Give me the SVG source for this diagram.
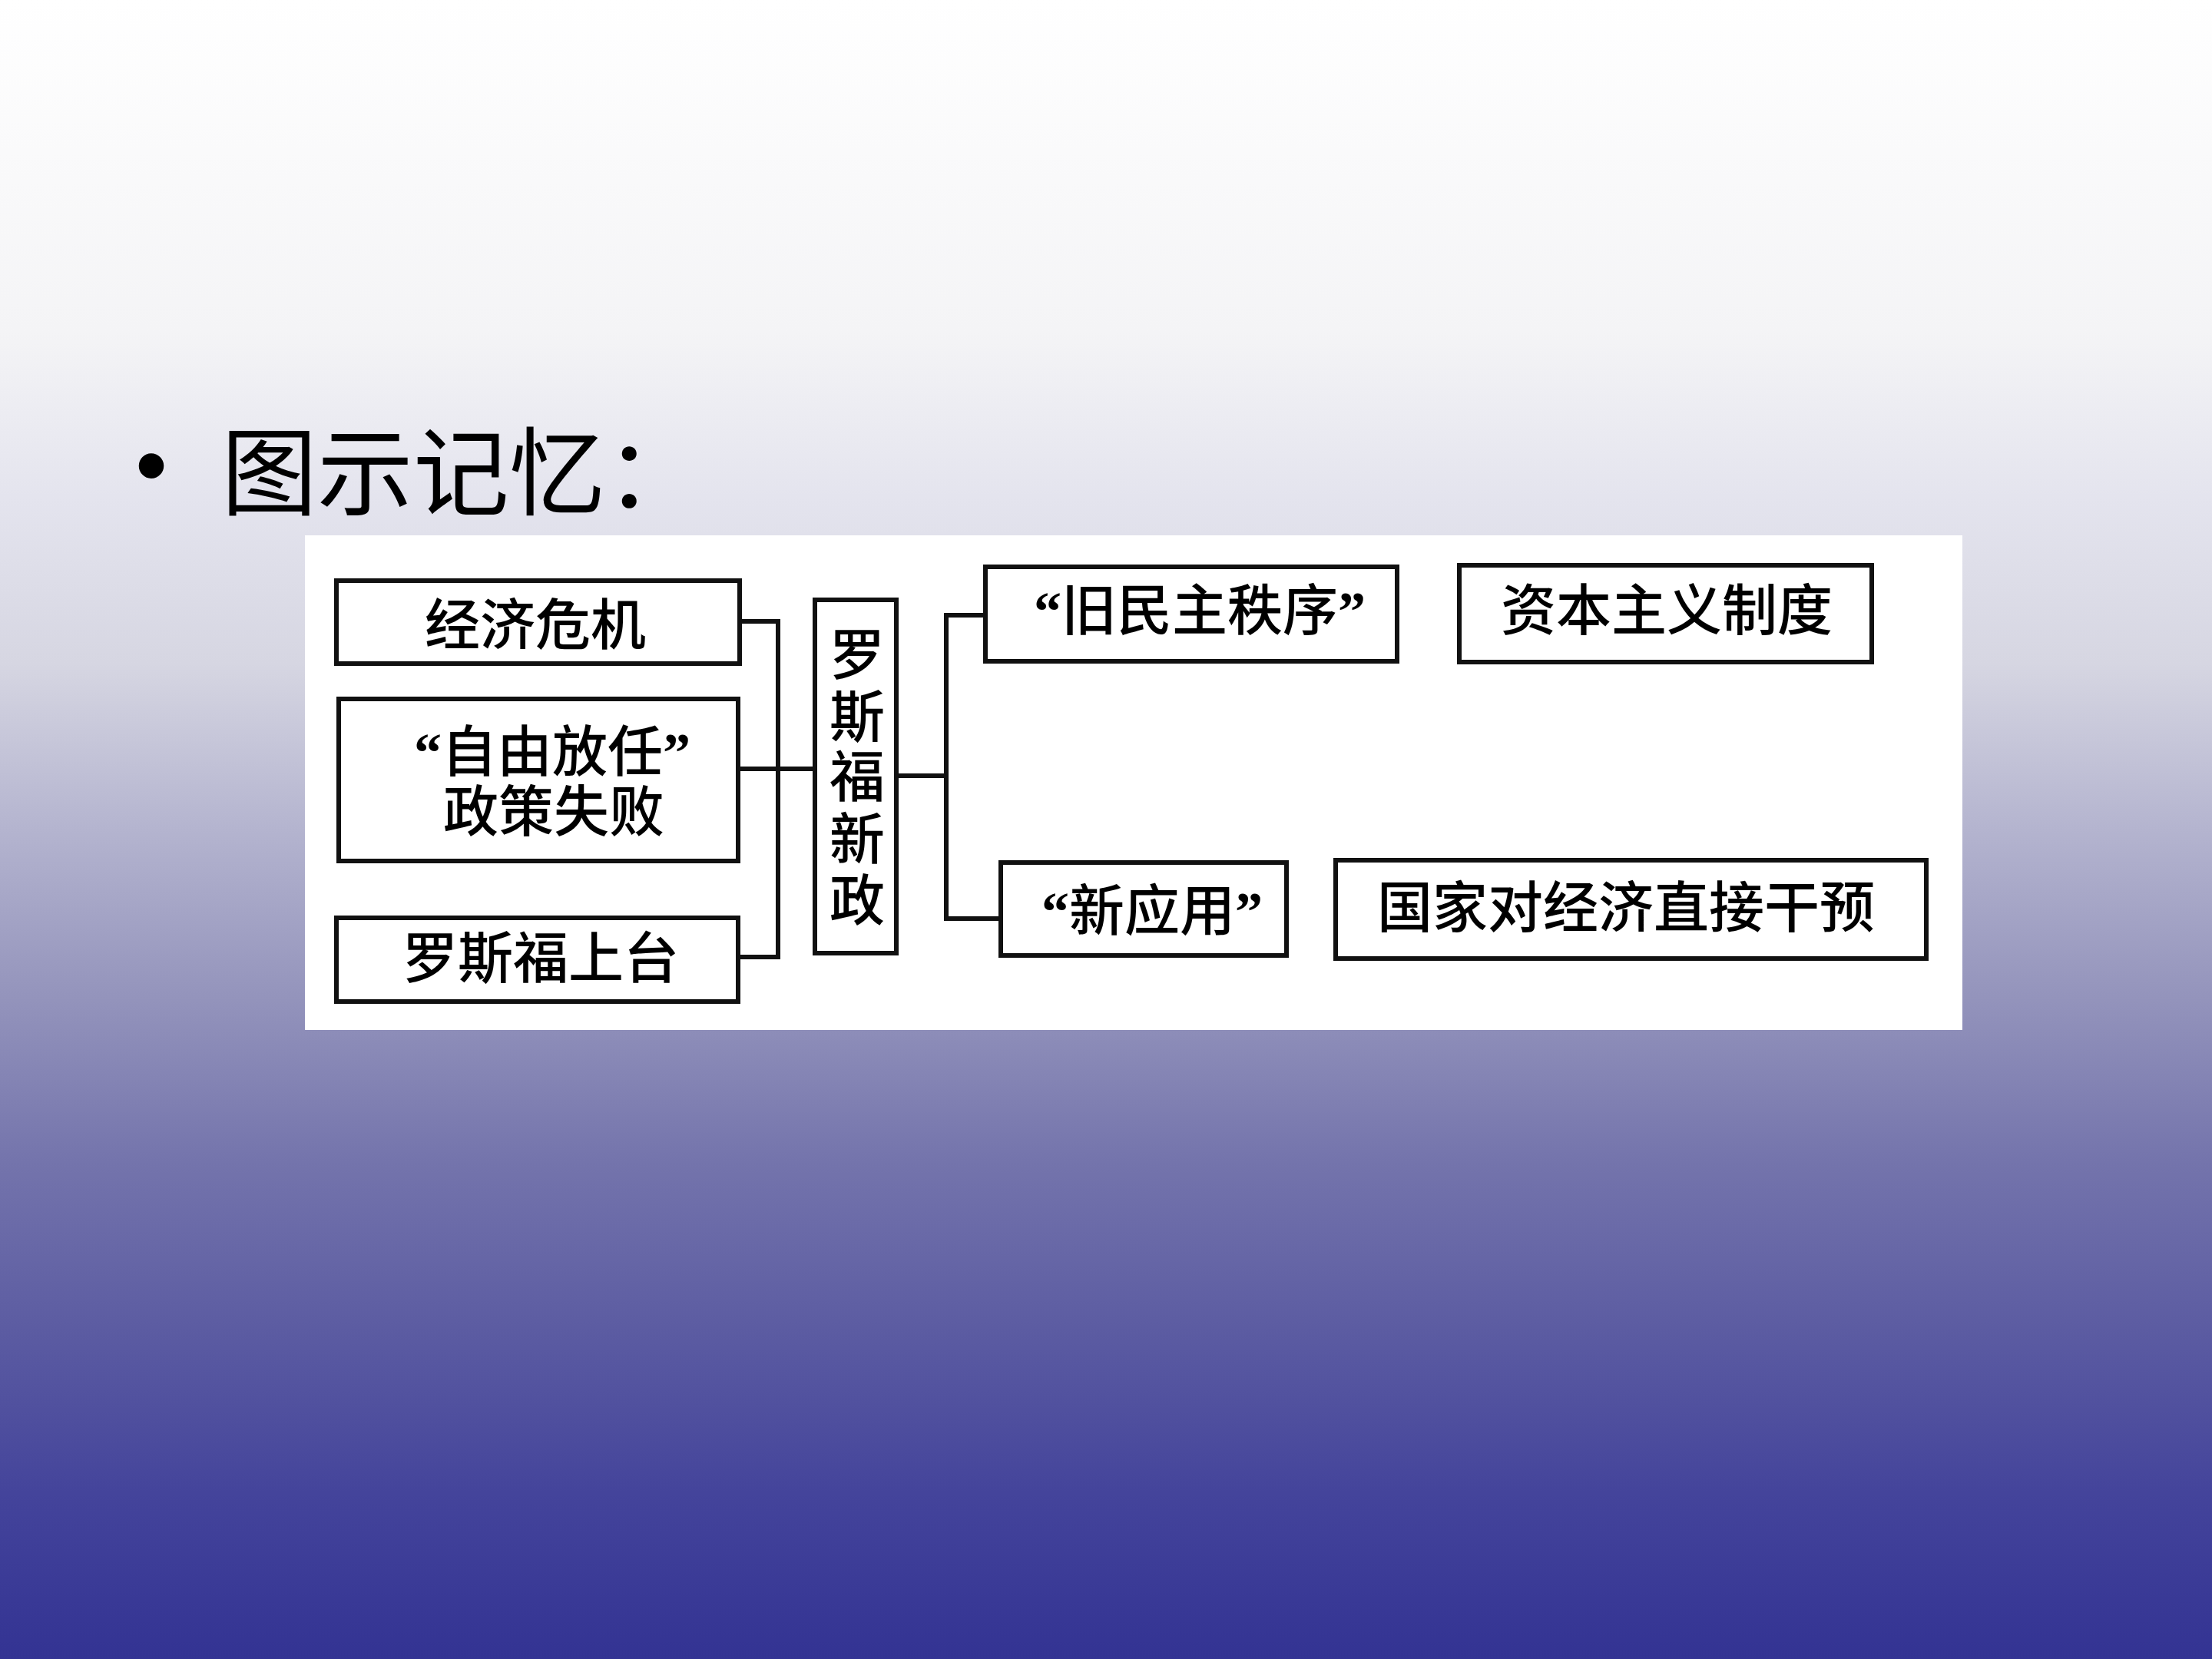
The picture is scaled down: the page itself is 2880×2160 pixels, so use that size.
<svg xmlns="http://www.w3.org/2000/svg" width="2880" height="2160" viewBox="0 0 2880 2160">
<defs>
<linearGradient id="bg" x1="0" y1="0" x2="0" y2="1">
<stop offset="0" stop-color="#ffffff"/>
<stop offset="0.2" stop-color="#f4f4f6"/>
<stop offset="0.3" stop-color="#e4e4ee"/>
<stop offset="0.4" stop-color="#d6d6e2"/>
<stop offset="0.5" stop-color="#b4b4cf"/>
<stop offset="0.6" stop-color="#9494bc"/>
<stop offset="0.7" stop-color="#7474ac"/>
<stop offset="0.8" stop-color="#5c5ca2"/>
<stop offset="0.9" stop-color="#44449b"/>
<stop offset="1" stop-color="#333393"/>
</linearGradient>
<style>
.box{fill:#ffffff;stroke:#111111;stroke-width:6}
.ln{fill:none;stroke:#111111;stroke-width:6;stroke-linecap:square}
.t{font-family:"Liberation Serif","Noto Sans CJK SC",serif;font-size:72px;font-weight:500;fill:#000;text-anchor:middle;dominant-baseline:central}
.q{font-weight:700}
.title{font-family:"Noto Sans CJK SC",sans-serif;font-size:125px;fill:#000}
</style>
</defs>
<rect x="0" y="0" width="2880" height="2160" fill="url(#bg)"/>
<g id="title">
<text x="197" y="647" font-family="Liberation Sans, sans-serif" font-size="120" text-anchor="middle" fill="#000">•</text>
<text class="title" x="288" y="606" dominant-baseline="central">图示记忆：</text>
</g>
<rect id="panel" x="397" y="697" width="2158" height="644" fill="#ffffff"/>
<g id="connectors">
<polyline class="ln" points="963,809 1013,809 1013,1246 961,1246"/>
<line class="ln" x1="961" y1="1001" x2="1061" y2="1001"/>
<line class="ln" x1="1167" y1="1010" x2="1232" y2="1010"/>
<polyline class="ln" points="1283,801 1232,801 1232,1196 1303,1196"/>
</g>
<g id="n-jingji">
<rect class="box" x="438" y="756" width="525" height="108"/>
<text class="t" x="697" y="815">经济危机</text>
</g>
<g id="n-ziyou">
<rect class="box" x="441" y="910" width="520" height="211"/>
<text class="t" x="719" y="980"><tspan class="q">“</tspan>自由放任<tspan class="q">”</tspan></text>
<text class="t" x="721" y="1058">政策失败</text>
</g>
<g id="n-shangtai">
<rect class="box" x="438" y="1195" width="523" height="109"/>
<text class="t" x="704" y="1249">罗斯福上台</text>
</g>
<g id="n-xinzheng">
<rect class="box" x="1061" y="781" width="106" height="460"/>
<text class="t"><tspan x="1116" y="854">罗</tspan><tspan x="1116" y="935">斯</tspan><tspan x="1116" y="1013">福</tspan><tspan x="1116" y="1094">新</tspan><tspan x="1116" y="1174">政</tspan></text>
</g>
<g id="n-jiuminzhu">
<rect class="box" x="1283" y="738" width="536" height="123"/>
<text class="t" x="1562" y="796"><tspan class="q">“</tspan>旧民主秩序<tspan class="q">”</tspan></text>
</g>
<g id="n-ziben">
<rect class="box" x="1900" y="736" width="537" height="126"/>
<text class="t" x="2170" y="796">资本主义制度</text>
</g>
<g id="n-xinyingyong">
<rect class="box" x="1303" y="1123" width="372" height="121"/>
<text class="t" x="1500" y="1187"><tspan class="q">“</tspan>新应用<tspan class="q">”</tspan></text>
</g>
<g id="n-guojia">
<rect class="box" x="1739" y="1120" width="769" height="128"/>
<text class="t" x="2117" y="1183">国家对经济直接干预</text>
</g>
</svg>
